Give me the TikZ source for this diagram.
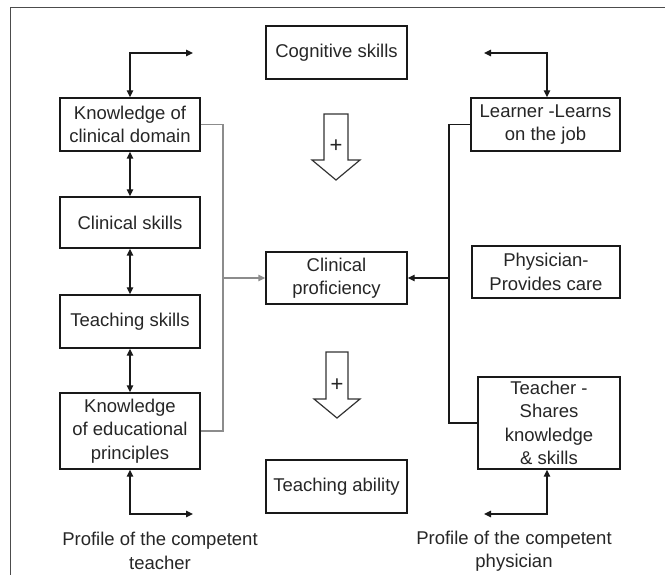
\documentclass[tikz,border=0pt]{standalone}
\usepackage{fontspec}
\setmainfont{Liberation Sans}
\usetikzlibrary{arrows.meta}
\begin{document}
\begin{tikzpicture}[x=1pt,y=-1pt,
  every node/.style={font=\fontsize{18.5}{23.5}\selectfont, text=black!85},
  box/.style={draw=black!90, line width=1.4pt, align=center, inner sep=2pt},
  link/.style={line width=1.4pt, draw=black!90},
  greylink/.style={line width=1.4pt, draw=black!45},
  tip/.style={-{Triangle[length=7pt,width=6.5pt]}},
  both/.style={{Triangle[length=7pt,width=6.5pt]}-{Triangle[length=7pt,width=6.5pt]}},
  hollow/.style={draw=black!80, line width=1.2pt, fill=white}]
\useasboundingbox (0,0) rectangle (665,575);
% outer frame edges
\draw[black!70, line width=1pt] (10,575) -- (10,8) -- (665,8);

% teacher column
\node[box, minimum width=140pt, minimum height=53pt] (kcd) at (130,124.5) {Knowledge of\\clinical domain};
\node[box, minimum width=140pt, minimum height=51pt] (cs)  at (130,222.5) {Clinical skills};
\node[box, minimum width=140pt, minimum height=53pt] (ts)  at (130,321.5) {Teaching skills};
\node[box, minimum width=140pt, minimum height=76pt] (ked) at (130,431) {Knowledge\\of educational\\principles};

% centre column
\node[box, minimum width=141pt, minimum height=53pt] (cog)  at (336.5,52.5) {Cognitive skills};
\node[box, minimum width=141pt, minimum height=52pt] (prof) at (336.5,278) {Clinical\\proficiency};
\node[box, minimum width=141pt, minimum height=53pt] (tab)  at (336.5,486.5) {Teaching ability};

% physician column
\node[box, minimum width=149pt, minimum height=53pt] (lrn)   at (545.5,124.5) {Learner -Learns\\on the job};
\node[box, minimum width=148pt, minimum height=52pt] (phys)  at (546,272) {Physician-\\Provides care};
\node[box, minimum width=142pt, minimum height=92pt] (tchr)  at (549,423) {Teacher -\\Shares\\knowledge\\\& skills};

% profile captions
\node[align=center] (capT) at (160,551) {Profile of the competent\\teacher};
\node[align=center] (capP) at (514,551) {Profile of the competent\\physician};

% free ends of the corner arrows
\coordinate (tl) at (193,53);
\coordinate (tr) at (484,53);
\coordinate (bl) at (193,514);
\coordinate (br) at (484,514);
\draw[link, both] (tl) -| (kcd.north);
\draw[link, both] (tr) -| ([xshift=1.5pt]lrn.north);
\draw[link, both] (bl) -| (ked.south);
\draw[link, both] (br) -| ([xshift=-2pt]tchr.south);

% links down the teacher column
\draw[link, both] (kcd) -- (cs);
\draw[link, both] (cs) -- (ts);
\draw[link, both] (ts) -- (ked);

% left bracket into clinical proficiency
\coordinate (lb) at (223,278);
\draw[greylink] (kcd.east) -| (lb) |- (ked.east);
\draw[greylink, tip] (lb) -- (prof.west);

% right bracket into clinical proficiency
\coordinate (rb) at (449,278);
\draw[link] (lrn.west) -| (rb) |- (tchr.west);
\draw[link, tip] (rb) -- (prof.east);

% hollow "+" arrows
\draw[hollow] (324,114) -- (348,114) -- (348,160) -- (360,160) -- (336,180)
  -- (312,160) -- (324,160) -- cycle;
\node[font=\fontsize{22}{22}\selectfont] (plus1) at (336,146) {+};
\draw[hollow] (326,352) -- (348,352) -- (348,399) -- (360,399) -- (337,418)
  -- (314,399) -- (326,399) -- cycle;
\node[font=\fontsize{22}{22}\selectfont] (plus2) at (337,385) {+};
\end{tikzpicture}
\end{document}
